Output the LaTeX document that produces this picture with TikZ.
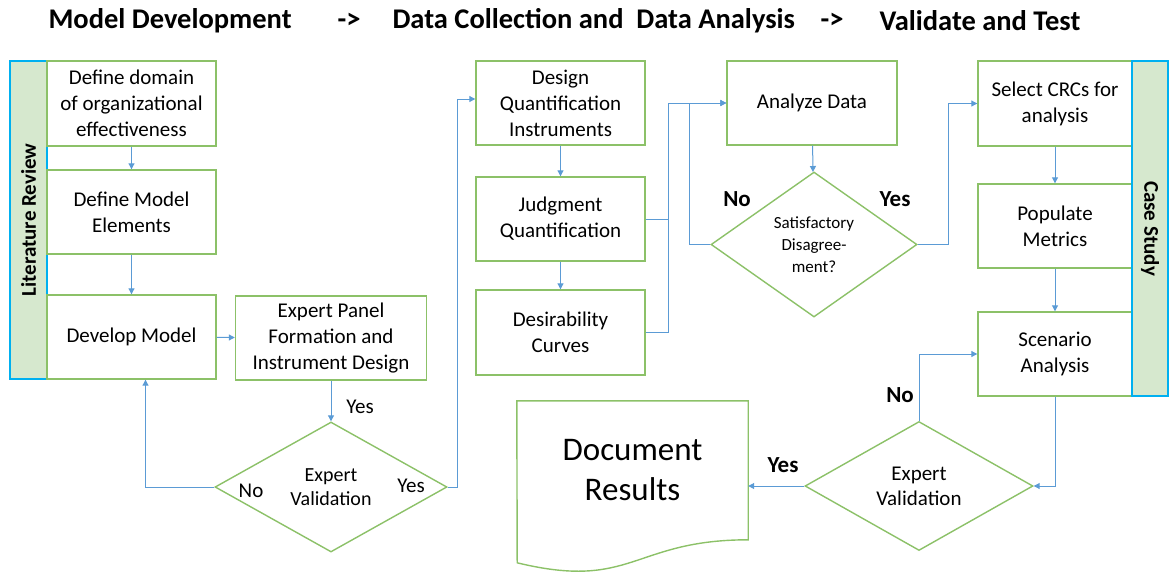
\documentclass[tikz,border=0pt]{standalone}
\usepackage{fontspec}
\setmainfont{Carlito}
\usetikzlibrary{shapes.geometric,arrows.meta}

\definecolor{boxgreen}{HTML}{8CC168}
\definecolor{flowblue}{HTML}{5B9BD5}
\definecolor{barfill}{HTML}{D6E8CE}
\definecolor{barline}{HTML}{00B0F0}

\tikzset{
  procbox/.style={draw=boxgreen, line width=1.4pt, fill=white, align=center,
    inner sep=0pt, font=\fontsize{21}{26}\selectfont},
  decision/.style={diamond, draw=boxgreen, line width=1.4pt, fill=white, align=center,
    inner sep=0pt, aspect=1.75},
  sidebar/.style={draw=barline, line width=1.4pt, fill=barfill, inner sep=0pt,
    font=\fontsize{21}{26}\selectfont\bfseries},
  flow/.style={draw=flowblue, line width=1pt, -{Triangle[length=6pt,width=6pt]}},
  link/.style={draw=flowblue, line width=1pt},
  lbl/.style={font=\fontsize{21}{26}\selectfont},
  boldlbl/.style={font=\fontsize{23}{26}\selectfont\bfseries},
  headtext/.style={anchor=west, font=\fontsize{28.5}{30}\selectfont\bfseries}
}

\begin{document}
\begin{tikzpicture}[x=1pt, y=-1pt]
  \useasboundingbox (0,0) rectangle (1170,571);

  % heading
  \node[headtext] (hmodel) at (45,21) {Model Development};
  \node[headtext] (harrA) at (334,21) {->};
  \node[headtext] (hdata) at (389,21) {Data Collection and\ \ Data Analysis};
  \node[headtext] (harrB) at (817,21) {->};
  \node[headtext] (hvalid) at (876,21) {Validate and Test};

  % model development
  \node[sidebar, rotate=90, minimum width=318pt, minimum height=37pt] (litrev) at (28.5,220) {Literature Review};
  \node[procbox, minimum width=169pt, minimum height=85pt] (defdomain) at (131.5,103.5) {Define domain\\of organizational\\effectiveness};
  \node[procbox, minimum width=169pt, minimum height=84pt] (defelem) at (131.5,212) {Define Model\\Elements};
  \node[procbox, minimum width=169pt, minimum height=84pt] (devmodel) at (131.5,337) {Develop Model};
  \node[procbox, minimum width=191pt, minimum height=84pt] (panel) at (331,338) {Expert Panel\\Formation and\\Instrument Design};
  \node[decision, minimum width=232pt, minimum height=130pt, font=\fontsize{20}{24}\selectfont] (valA) at (331,487) {Expert\\Validation};

  % data collection and analysis
  \node[procbox, minimum width=169pt, minimum height=84pt] (designq) at (560.5,103) {Design\\Quantification\\Instruments};
  \node[procbox, minimum width=169pt, minimum height=84pt] (judg) at (560.5,219) {Judgment\\Quantification};
  \node[procbox, minimum width=169pt, minimum height=85pt] (desir) at (560.5,332.5) {Desirability\\Curves};
  \node[procbox, minimum width=170pt, minimum height=84pt] (analyze) at (812,103) {Analyze Data};
  \node[decision, minimum width=206pt, minimum height=145pt, aspect=1.42, font=\fontsize{17}{22}\selectfont] (satis) at (814,244.5) {Satisfactory\\Disagree-\\ment?};

  % validate and test
  \node[procbox, minimum width=154pt, minimum height=85pt] (select) at (1055,103.5) {Select CRCs for\\analysis};
  \node[procbox, minimum width=154pt, minimum height=84pt] (populate) at (1055,226) {Populate\\Metrics};
  \node[procbox, minimum width=154pt, minimum height=84pt] (scenario) at (1055,354) {Scenario\\Analysis};
  \node[sidebar, rotate=-90, minimum width=335pt, minimum height=36pt] (casestudy) at (1150,228.5) {Case Study};
  \node[decision, minimum width=228pt, minimum height=129pt, font=\fontsize{21}{25}\selectfont] (valB) at (919,486) {Expert\\Validation};
  \node[inner sep=0pt, minimum width=231pt, minimum height=139pt, align=center,
        font=\fontsize{33}{40}\selectfont] (docres) at (632.5,470.5) {Document\\Results};
  \draw[draw=boxgreen, line width=1.4pt] (docres.north west) -- (docres.north east) -- ++(0,139)
    .. controls ++(-115.5,0) and ++(115.5,28) .. ++(-231,23) -- cycle;

  % connectors
  \draw[flow] (defdomain) -- (defelem);
  \draw[flow] (defelem) -- (devmodel);
  \draw[flow] (devmodel) -- (panel);
  \draw[flow] (panel) -- (valA);
  \draw[flow] (valA.west) -| ([xshift=14pt]devmodel.south);
  \draw[flow] (valA.east) -- ++(10,0) |- ([yshift=4pt]designq.west);
  \draw[flow] (designq) -- (judg);
  \draw[flow] (judg) -- (desir);
  \coordinate (joinq) at (668,103);
  \draw[link] (judg.east) -- (judg.east -| joinq);
  \draw[link] (desir.east) -| (joinq);
  \draw[flow] (joinq) -- (analyze.west);
  \draw[flow] (satis.west) -- ++(-21,0) |- (analyze.west);
  \draw[flow] (analyze) -- (satis);
  \draw[flow] (satis.east) -- ++(31,0) |- (select.west);
  \draw[flow] (select) -- (populate);
  \draw[flow] (populate) -- (scenario);
  \draw[flow] (scenario.south) |- (valB.east);
  \draw[flow] (valB.north) |- (scenario.west);
  \draw[flow] (valB.west) -- (valB.west -| docres.east);

  % answers
  \node[lbl] (yesA) at (360,407) {Yes};
  \node[lbl] (noA) at (251,491) {No};
  \node[lbl] (yesB) at (411,486) {Yes};
  \node[boldlbl] (noS) at (737,199) {No};
  \node[boldlbl] (yesS) at (895,199) {Yes};
  \node[boldlbl] (noV) at (900,395) {No};
  \node[boldlbl] (yesV) at (783,465) {Yes};
\end{tikzpicture}
\end{document}
